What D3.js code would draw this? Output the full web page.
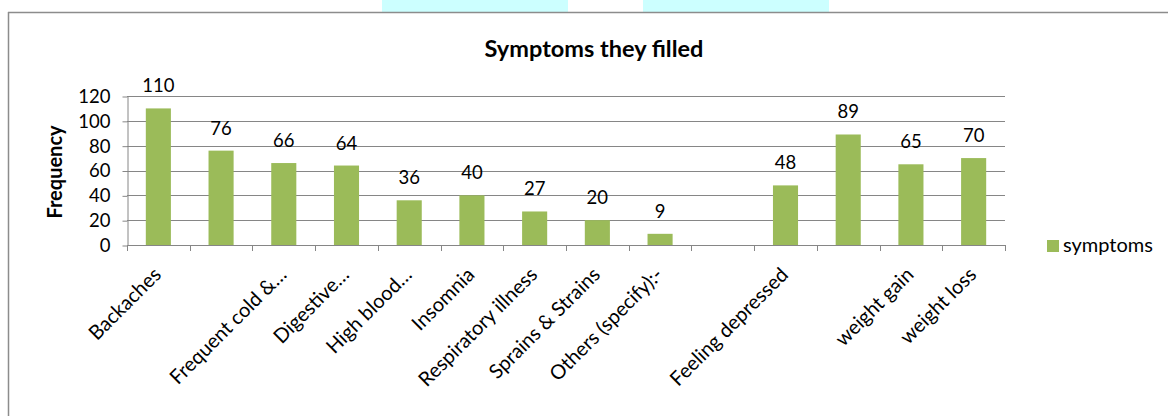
<!DOCTYPE html>
<html>
<head>
<meta charset="utf-8">
<script src="https://cdn.jsdelivr.net/npm/d3@7"></script>
<style>
  html, body { margin: 0; padding: 0; background: #ffffff; }
  svg { display: block; font-family: Lato, "Open Sans", "Noto Sans", sans-serif; }
</style>
</head>
<body>
<svg id="chart" width="1168" height="416"></svg>
<script>
// Category labels along the x axis (blank entries have no printed label)
const categories = [
  "Backaches", "", "Frequent cold &\u2026", "Digestive\u2026", "High blood\u2026",
  "Insomnia", "Respiratory illness", "Sprains & Strains", "Others (specify):-",
  "", "Feeling depressed", "", "weight gain", "weight loss"
];
// Frequency reported for each symptom (null = empty slot)
const symptoms = [110, 76, 66, 64, 36, 40, 27, 20, 9, null, 48, 89, 65, 70];
const yTicks = [0, 20, 40, 60, 80, 100, 120];
const seriesName = "symptoms";
const chartTitle = "Symptoms they filled";
const yTitle = "Frequency";

const svg = d3.select("#chart");
const barColor = "#9BBB59";
const gridColor = "#868686";

// Decorative strips above the chart frame
svg.append("rect").attr("x", 382).attr("y", 0).attr("width", 186).attr("height", 12).attr("fill", "#ccffff");
svg.append("rect").attr("x", 643).attr("y", 0).attr("width", 186).attr("height", 12).attr("fill", "#ccffff");

// Chart frame (top and left edges visible)
svg.append("line").attr("x1", 8).attr("x2", 1168).attr("y1", 12.5).attr("y2", 12.5)
  .attr("stroke", "#8c8c8c").attr("stroke-width", 1.5);
svg.append("line").attr("x1", 8.5).attr("x2", 8.5).attr("y1", 12).attr("y2", 416)
  .attr("stroke", "#8c8c8c").attr("stroke-width", 1.5);

const plot = { left: 127, right: 1005, top: 96, bottom: 245 };

const x = d3.scaleBand()
  .domain(d3.range(categories.length))
  .range([plot.left, plot.right])
  .paddingInner(0.6)
  .paddingOuter(0.3);

const y = d3.scaleLinear().domain([0, 120]).range([plot.bottom, plot.top]);

// Horizontal gridlines
svg.append("g").selectAll("line").data(yTicks.filter(t => t > 0)).join("line")
  .attr("x1", plot.left).attr("x2", plot.right)
  .attr("y1", d => Math.round(y(d)) + 0.5).attr("y2", d => Math.round(y(d)) + 0.5)
  .attr("stroke", gridColor).attr("stroke-width", 1);

// Y axis
const yAxis = svg.append("g")
  .attr("transform", `translate(${plot.left + 0.5},0.5)`)
  .call(d3.axisLeft(y).tickValues(yTicks).tickSize(5).tickPadding(12).tickSizeOuter(0));
yAxis.select(".domain").attr("stroke", gridColor);
yAxis.selectAll(".tick line").attr("stroke", gridColor);
yAxis.selectAll(".tick text")
  .attr("font-family", "Lato, 'Open Sans', sans-serif")
  .attr("font-size", 18.5).attr("fill", "#000");

// Bars
svg.append("g").selectAll("rect")
  .data(symptoms.map((v, i) => ({ i, v })).filter(d => d.v != null))
  .join("rect")
  .attr("x", d => x(d.i))
  .attr("width", x.bandwidth())
  .attr("y", d => y(d.v))
  .attr("height", d => y(0) - y(d.v))
  .attr("fill", barColor);

// X axis: baseline plus tick marks at category boundaries
const step = x.step();
const boundaries = d3.range(categories.length + 1).map(i => plot.left + i * step);
svg.append("line").attr("x1", plot.left).attr("x2", plot.right)
  .attr("y1", plot.bottom + 0.5).attr("y2", plot.bottom + 0.5)
  .attr("stroke", gridColor);
svg.append("g").selectAll("line").data(boundaries).join("line")
  .attr("x1", d => Math.round(d) + 0.5).attr("x2", d => Math.round(d) + 0.5)
  .attr("y1", plot.bottom).attr("y2", plot.bottom + 6)
  .attr("stroke", gridColor);

// Rotated category labels
svg.append("g").selectAll("text")
  .data(categories.map((c, i) => ({ c, i })).filter(d => d.c))
  .join("text")
  .attr("transform", d => `translate(${x(d.i) + x.bandwidth() / 2 - 1},271) rotate(-45)`)
  .attr("text-anchor", "end")
  .attr("dy", "0.35em")
  .attr("font-size", 20)
  .attr("fill", "#000")
  .text(d => d.c);

// Value labels above bars
svg.append("g").selectAll("text")
  .data(symptoms.map((v, i) => ({ i, v })).filter(d => d.v != null))
  .join("text")
  .attr("x", d => x(d.i) + x.bandwidth() / 2)
  .attr("y", d => y(d.v) - 16)
  .attr("text-anchor", "middle")
  .attr("font-size", 18.5)
  .attr("fill", "#000")
  .text(d => d.v);

// Title
svg.append("text")
  .attr("x", 594).attr("y", 57)
  .attr("text-anchor", "middle")
  .attr("font-size", 23.5).attr("font-weight", "bold")
  .attr("fill", "#000")
  .text(chartTitle);

// Y axis title
svg.append("text")
  .attr("transform", "translate(62,172) rotate(-90)")
  .attr("text-anchor", "middle")
  .attr("font-size", 20).attr("font-weight", "bold")
  .attr("fill", "#000")
  .text(yTitle);

// Legend
const legend = svg.append("g");
legend.append("rect").attr("x", 1047).attr("y", 240).attr("width", 12).attr("height", 12).attr("fill", barColor);
legend.append("text").attr("x", 1063).attr("y", 252)
  .attr("font-size", 20).attr("fill", "#000")
  .text(seriesName);
</script>
</body>
</html>
